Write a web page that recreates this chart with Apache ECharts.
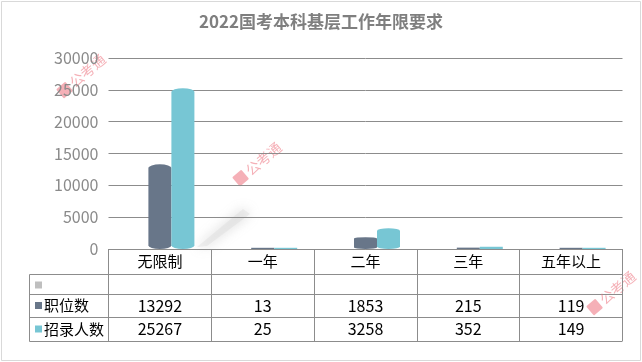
<!DOCTYPE html>
<html><head><meta charset="utf-8">
<script src="https://cdn.jsdelivr.net/npm/echarts@6/dist/echarts.min.js"></script>
<style>html,body{margin:0;padding:0;background:#fff}#c{width:642px;height:362px}</style>
</head><body><div id="c"></div>
<script>
const titleText = '2022国考本科基层工作年限要求';
const categories = ['无限制', '一年', '二年', '三年', '五年以上'];
const seriesNames = ['职位数', '招录人数'];
const jobs = [13292, 13, 1853, 215, 119];
const hires = [25267, 25, 3258, 352, 149];
const yMin = 0, yMax = 30000, yStep = 5000;

const FONT = '"Noto Sans CJK SC", "Microsoft YaHei", sans-serif';
const colors = ['#687689', '#77c6d4'];
const emptyKey = '#bfbfbf';
const lineColor = '#8c8c8c';
const wmColor = 'rgba(236,112,124,0.55)';

const chart = echarts.init(document.getElementById('c'), null, {renderer: 'canvas'});

function cylinder(k) {
  return function (params, api) {
    const top = api.coord([api.value(0), api.value(1)]);
    const base = api.coord([api.value(0), 0]);
    const bw = 23;
    const left = top[0] - bw / 2 + k * bw;
    const right = left + bw;
    const h = base[1] - top[1];
    const color = api.visual('color');
    const ry = Math.min(3.5, h * 0.12);
    if (ry < 1) {
      return {type: 'rect', shape: {x: left, y: base[1] - Math.max(h, 1.2), width: bw, height: Math.max(h, 1.2)}, style: {fill: color}};
    }
    const rx = bw / 2;
    const y0 = top[1], y1 = base[1];
    const d = 'M' + left + ',' + (y0 + ry) +
      ' A' + rx + ',' + ry + ' 0 0 1 ' + right + ',' + (y0 + ry) +
      ' L' + right + ',' + (y1 - ry) +
      ' A' + rx + ',' + ry + ' 0 0 1 ' + left + ',' + (y1 - ry) + ' Z';
    return {
      type: 'path',
      shape: {pathData: d, x: left, y: y0, width: bw, height: y1 - y0, layout: 'cover'},
      style: {fill: color}
    };
  };
}

function watermark(x, y) {
  return {
    type: 'group', x: x, y: y, rotation: 0.7, z: 100, silent: true,
    children: [
      {type: 'rect', shape: {x: 0, y: -6, width: 12, height: 12, r: 1}, style: {fill: wmColor}},
      {type: 'text', x: 15, y: 0, style: {text: '公考通', fill: wmColor, font: '14px ' + FONT, verticalAlign: 'middle'}}
    ]
  };
}

const tableLeft = 29.5, tableRight = 622.5;
const rowLines = [274.5, 294.5, 317.5, 341.5];
const rowCenters = [285, 305.5, 329];
const graphics = [
  {type: 'rect', shape: {x: 1.5, y: 1.5, width: 639, height: 359}, style: {fill: 'none', stroke: '#d9d9d9', lineWidth: 1}, z: -2},
  {type: 'polygon', shape: {points: [[197, 247], [207, 246], [250, 214], [243, 209]]}, style: {fill: 'rgba(215,215,215,0.35)', shadowBlur: 12, shadowColor: 'rgba(150,150,150,1)'}, z: -1, silent: true},
  {type: 'line', shape: {x1: tableLeft, y1: rowLines[0], x2: tableLeft, y2: rowLines[3]}, style: {stroke: lineColor, lineWidth: 1}}
];
rowLines.forEach(function (y) {
  graphics.push({type: 'line', shape: {x1: tableLeft, y1: y, x2: tableRight, y2: y}, style: {stroke: lineColor, lineWidth: 1}});
});
const keyColors = [emptyKey].concat(colors);
const keyLabels = [''].concat(seriesNames);
keyLabels.forEach(function (name, i) {
  graphics.push({type: 'rect', shape: {x: 35, y: rowCenters[i] - 3.5, width: 7, height: 7}, style: {fill: keyColors[i]}});
  if (name) graphics.push({type: 'text', x: 44, y: rowCenters[i], style: {text: name, fill: '#000', font: '15px ' + FONT, verticalAlign: 'middle'}});
});
graphics.push(watermark(60, 94), watermark(236, 182), watermark(590, 311));

const option = {
  backgroundColor: '#fff',
  textStyle: {fontFamily: FONT},
  title: {
    text: titleText, left: 'center', top: 13, padding: 0,
    textStyle: {fontSize: 17, fontWeight: 'bold', color: '#7f7f7f', fontFamily: FONT}
  },
  grid: {left: 108.5, right: 19.5, top: 58, bottom: 113, containLabel: false},
  xAxis: [
    {
      type: 'category', data: categories, position: 'bottom',
      axisLine: {show: true, lineStyle: {color: lineColor, width: 1}},
      axisTick: {show: true, length: 92, lineStyle: {color: lineColor, width: 1}},
      axisLabel: {color: '#000', fontSize: 15, margin: 5, interval: 0, fontFamily: FONT},
      splitLine: {show: false}
    },
    {
      type: 'category', data: categories, position: 'bottom',
      axisLine: {show: false}, axisTick: {show: false}, splitLine: {show: false},
      axisLabel: {color: '#000', fontSize: 16, margin: 49, interval: 0, fontFamily: FONT, formatter: function (v, i) { return String(jobs[i]); }}
    },
    {
      type: 'category', data: categories, position: 'bottom',
      axisLine: {show: false}, axisTick: {show: false}, splitLine: {show: false},
      axisLabel: {color: '#000', fontSize: 16, margin: 72, interval: 0, fontFamily: FONT, formatter: function (v, i) { return String(hires[i]); }}
    }
  ],
  yAxis: {
    type: 'value', min: yMin, max: yMax, interval: yStep,
    axisLine: {show: false}, axisTick: {show: false},
    axisLabel: {color: '#8a8a8a', fontSize: 16, margin: 10, fontFamily: FONT, formatter: function (v) { return String(v); }},
    splitLine: {show: true, lineStyle: {color: '#8c8c8c', width: 1}}
  },
  series: [
    {type: 'custom', name: seriesNames[0], xAxisIndex: 0, yAxisIndex: 0, renderItem: cylinder(0), itemStyle: {color: colors[0]}, encode: {x: 0, y: 1}, data: jobs.map(function (v, i) { return [i, v]; }), z: 5},
    {type: 'custom', name: seriesNames[1], xAxisIndex: 0, yAxisIndex: 0, renderItem: cylinder(1), itemStyle: {color: colors[1]}, encode: {x: 0, y: 1}, data: hires.map(function (v, i) { return [i, v]; }), z: 5}
  ],
  graphic: graphics,
  animation: false
};
chart.setOption(option);
</script>
</body></html>
